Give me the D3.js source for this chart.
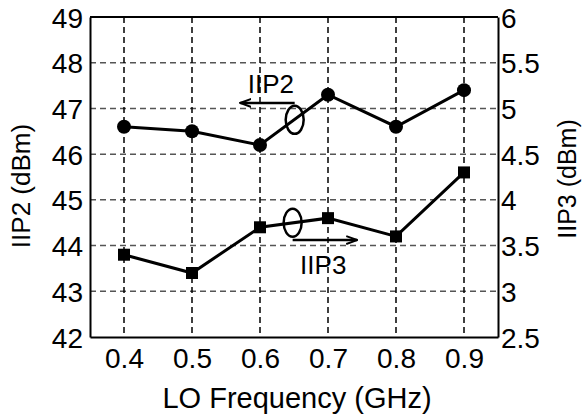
<!DOCTYPE html>
<html>
<head>
<meta charset="utf-8">
<script src="https://cdn.jsdelivr.net/npm/d3@7"></script>
<style>
  body { margin: 0; background: #fff; }
  text { font-family: Arial, "Liberation Sans", sans-serif; fill: #000; }
</style>
</head>
<body>
<div id="chart"></div>
<script>
// data
let lo_freq = [0.4, 0.5, 0.6, 0.7, 0.8, 0.9];
let iip2 = [46.6, 46.5, 46.2, 47.3, 46.6, 47.4];
let iip3 = [3.4, 3.2, 3.7, 3.8, 3.6, 4.3];
let x_ticks = [0.4, 0.5, 0.6, 0.7, 0.8, 0.9];
let left_ticks = [42, 43, 44, 45, 46, 47, 48, 49];
let right_ticks = [2.5, 3, 3.5, 4, 4.5, 5, 5.5, 6];

let chart_width = 583;
let chart_height = 418;

let margin_top = 17;
let margin_right = 85;
let margin_bottom = 81;
let margin_left = 90;

let width = chart_width - margin_left - margin_right;
let height = chart_height - margin_top - margin_bottom;

let svg = d3.select("#chart")
            .append("svg")
            .attr("width", chart_width)
            .attr("height", chart_height)
            .append("g")
            .attr("transform", "translate(" + margin_left + "," + margin_top + ")");

let xScale = d3.scaleLinear().domain([0.35, 0.95]).range([0, width]);
let yLeft = d3.scaleLinear().domain([42, 49]).range([height, 0]);
let yRight = d3.scaleLinear().domain([2.5, 6]).range([height, 0]);

// grid
svg.selectAll(".hgrid")
    .data(left_ticks.slice(1, -1))
    .enter()
    .append("line")
    .attr("x1", 0).attr("x2", width)
    .attr("y1", d => yLeft(d)).attr("y2", d => yLeft(d))
    .attr("stroke", "#555")
    .attr("stroke-width", 1.5)
    .attr("stroke-dasharray", "6,4");

svg.selectAll(".vgrid")
    .data(x_ticks)
    .enter()
    .append("line")
    .attr("x1", d => xScale(d)).attr("x2", d => xScale(d))
    .attr("y1", 0).attr("y2", height)
    .attr("stroke", "#000")
    .attr("stroke-width", 1.5)
    .attr("stroke-dasharray", "6,4");

// axes
let x_axis = svg.append("g")
    .attr("transform", "translate(0," + height + ")")
    .call(d3.axisBottom(xScale).tickValues(x_ticks).tickSize(0).tickPadding(11).tickFormat(d3.format(".1f")));

let left_axis = svg.append("g")
    .call(d3.axisLeft(yLeft).tickValues(left_ticks).tickSize(0).tickPadding(7).tickSizeOuter(0)
        .tickFormat(d3.format("d")));

let right_axis = svg.append("g")
    .attr("transform", "translate(" + width + ",0)")
    .call(d3.axisRight(yRight).tickValues(right_ticks).tickSize(0).tickPadding(3).tickSizeOuter(0)
        .tickFormat(d => d3.format("")(d)));

for (let ax of [x_axis, left_axis, right_axis]) {
    ax.selectAll("text").style("font-size", "28px").attr("fill", "#000");
    ax.select(".domain").attr("stroke", "#000").attr("stroke-width", 2);
}
left_axis.selectAll(".tick text").attr("dy", "0.36em");
right_axis.selectAll(".tick text").attr("dy", "0.36em");

svg.append("line")
    .attr("x1", 0).attr("x2", width).attr("y1", 0).attr("y2", 0)
    .attr("stroke", "#000").attr("stroke-width", 2);

// series
let line2 = d3.line().x((d, i) => xScale(lo_freq[i])).y(d => yLeft(d));
let line3 = d3.line().x((d, i) => xScale(lo_freq[i])).y(d => yRight(d));

svg.append("path").datum(iip2).attr("d", line2)
    .attr("fill", "none").attr("stroke", "#000").attr("stroke-width", 3);
svg.append("path").datum(iip3).attr("d", line3)
    .attr("fill", "none").attr("stroke", "#000").attr("stroke-width", 3);

svg.selectAll(".iip2_pt")
    .data(iip2)
    .enter()
    .append("circle")
    .attr("cx", (d, i) => xScale(lo_freq[i]))
    .attr("cy", d => yLeft(d))
    .attr("r", 7)
    .attr("fill", "#000");

svg.selectAll(".iip3_pt")
    .data(iip3)
    .enter()
    .append("rect")
    .attr("x", (d, i) => xScale(lo_freq[i]) - 6)
    .attr("y", d => yRight(d) - 6)
    .attr("width", 12)
    .attr("height", 12)
    .attr("fill", "#000");

// annotations
let defs = svg.append("defs");
defs.append("marker")
    .attr("id", "arrow")
    .attr("viewBox", "0 0 12 10")
    .attr("refX", 11).attr("refY", 5)
    .attr("markerWidth", 12).attr("markerHeight", 10)
    .attr("markerUnits", "userSpaceOnUse")
    .attr("orient", "auto")
    .append("path")
    .attr("d", "M0,1 L11,5 L0,9")
    .attr("fill", "none")
    .attr("stroke", "#000")
    .attr("stroke-width", 2);

// IIP2 marker: ellipse + arrow pointing left
svg.append("ellipse")
    .attr("cx", xScale(0.651)).attr("cy", yLeft(46.75))
    .attr("rx", 9).attr("ry", 14)
    .attr("fill", "none").attr("stroke", "#000").attr("stroke-width", 2.5);
svg.append("line")
    .attr("x1", xScale(0.651)).attr("x2", xScale(0.571))
    .attr("y1", yLeft(47.12)).attr("y2", yLeft(47.12))
    .attr("stroke", "#000").attr("stroke-width", 2.5)
    .attr("marker-end", "url(#arrow)");
svg.append("text")
    .attr("x", xScale(0.616)).attr("y", yLeft(47.34))
    .attr("text-anchor", "middle")
    .style("font-size", "26px")
    .text("IIP2");

// IIP3 marker: ellipse + arrow pointing right
svg.append("ellipse")
    .attr("cx", xScale(0.648)).attr("cy", yLeft(44.5))
    .attr("rx", 9).attr("ry", 14)
    .attr("fill", "none").attr("stroke", "#000").attr("stroke-width", 2.5);
svg.append("line")
    .attr("x1", xScale(0.648)).attr("x2", xScale(0.743))
    .attr("y1", yLeft(44.12)).attr("y2", yLeft(44.12))
    .attr("stroke", "#000").attr("stroke-width", 2.5)
    .attr("marker-end", "url(#arrow)");
svg.append("text")
    .attr("x", xScale(0.693)).attr("y", yLeft(43.38))
    .attr("text-anchor", "middle")
    .style("font-size", "26px")
    .text("IIP3");

// axis titles
svg.append("text")
    .attr("x", width / 2 + 3).attr("y", height + 71)
    .attr("text-anchor", "middle")
    .style("font-size", "29px")
    .text("LO Frequency (GHz)");

svg.append("text")
    .attr("transform", "translate(" + (-margin_left + 30) + "," + 169 + ") rotate(-90)")
    .attr("text-anchor", "middle")
    .style("font-size", "26px")
    .text("IIP2 (dBm)");

svg.append("text")
    .attr("transform", "translate(" + (width + 78) + "," + 162 + ") rotate(-90)")
    .attr("text-anchor", "middle")
    .style("font-size", "25px")
    .text("IIP3 (dBm)");
</script>
</body>
</html>
